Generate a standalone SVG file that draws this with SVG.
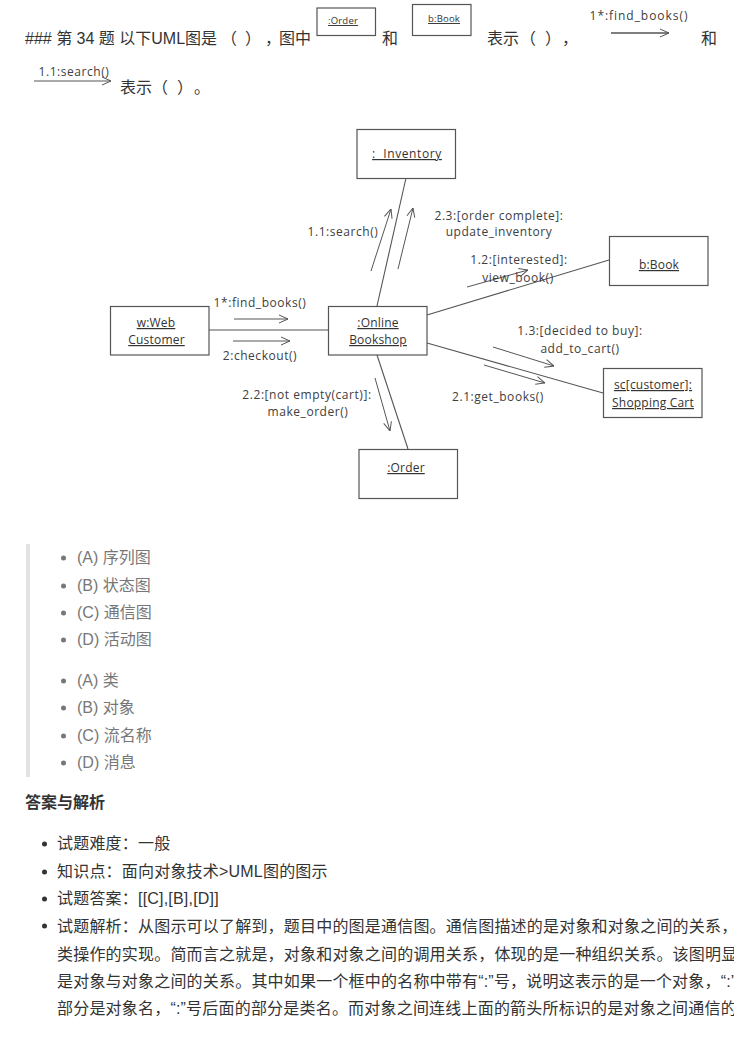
<svg xmlns="http://www.w3.org/2000/svg" width="734" height="1042" viewBox="0 0 734 1042">
<style>
text{font-family:"Liberation Sans","Noto Sans CJK SC",sans-serif;font-size:16px;fill:#333}
.o{fill:#777}
.b{font-weight:bold}
.w{letter-spacing:.2px}
.u,.l,.m{font-family:"Open Sans","Noto Sans",sans-serif;text-anchor:middle}
.u{font-size:12px;text-decoration:underline;fill:#333;letter-spacing:.2px}
.l{font-size:12px;fill:#404040;letter-spacing:.55px}
.s{font-size:9.500px;text-decoration:underline}
.box{fill:#fff;stroke:#555;stroke-width:1.2}
.c{fill:none;stroke:#555;stroke-width:1.1}
.a{fill:none;stroke:#555;stroke-width:1;marker-end:url(#h)}
.d{fill:#777}
.k{fill:#333}
</style>
<defs>
<marker id="h" viewBox="0 0 10 10" refX="10" refY="5" markerWidth="10" markerHeight="10" markerUnits="userSpaceOnUse" orient="auto"><path d="M1 1L10 5L1 9" fill="none" stroke="#555" stroke-width="1"/></marker>
</defs>
<rect width="734" height="1042" fill="#fff"/>

<g id="question">
<text x="25" y="44">### 第 34 题 以下UML图是</text>
<text x="221" y="44">（</text><text x="245" y="44">）</text><text x="265" y="44">，</text>
<text x="279" y="44">图中</text>
<text x="382" y="44">和</text>
<text x="487" y="44">表示</text>
<text x="520" y="44">（</text><text x="545" y="44">）</text><text x="562" y="44">，</text>
<text x="701" y="44">和</text>
<text x="120" y="93">表示</text>
<text x="152" y="93">（</text><text x="177" y="93">）</text><text x="194" y="93">。</text>
</g>
<g id="inline-order"><rect class="box" x="317" y="8" width="58.500" height="27.500"/><text class="u s" x="343" y="24">:Order</text></g>
<g id="inline-book"><rect class="box" x="412.500" y="4.500" width="58.500" height="31"/><text class="u s" x="444" y="22">b:Book</text></g>
<g id="inline-message"><text class="l" style="letter-spacing:.95px" x="639" y="20">1*:find_books()</text><path class="a" style="stroke-width:1.500" d="M611 33H669"/></g>
<g id="inline-search"><text class="l" x="74" y="76">1.1:search()</text><path class="a" d="M34 81H111"/></g>

<g id="connectors">
<path class="c" d="M209 330H328"/>
<path class="c" d="M377 306L406 178"/>
<path class="c" d="M377 355L408 449"/>
<path class="c" d="M427 315L609 260"/>
<path class="c" d="M427 343L603 393"/>
<path class="a" d="M234 319H288"/>
<path class="a" d="M233 341H290"/>
<path class="a" d="M371 271L391 209"/>
<path class="a" d="M398 269L413 208"/>
<path class="a" d="M375 378L390 431"/>
<path class="a" d="M467 287L528 270"/>
<path class="a" d="M493 347L554 366"/>
<path class="a" d="M484 365L545 383"/>
</g>

<g id="web-customer"><rect class="box" x="110.500" y="306.500" width="98.500" height="48.500"/><text class="u" x="156" y="327">w:Web</text><text class="u" x="156.500" y="344">Customer</text></g>
<g id="online-bookshop"><rect class="box" x="328.500" y="306.500" width="98.500" height="48.500"/><text class="u" x="378" y="327">:Online</text><text class="u" x="378" y="344">Bookshop</text></g>
<g id="inventory"><rect class="box" x="357" y="129.500" width="98.500" height="49"/><text class="u" style="letter-spacing:.6px" xml:space="preserve" x="407" y="158">:  Inventory</text></g>
<g id="order"><rect class="box" x="359" y="449.500" width="98.500" height="49"/><text class="u" x="406" y="472">:Order</text></g>
<g id="book"><rect class="box" x="609.500" y="236.500" width="98.500" height="49"/><text class="u" x="659" y="269">b:Book</text></g>
<g id="shopping-cart"><rect class="box" x="603.500" y="368.500" width="98.500" height="49"/><text class="u" x="653" y="389">sc[customer]:</text><text class="u" x="653" y="407">Shopping Cart</text></g>

<g id="message-labels">
<text class="l" x="260" y="307">1*:find_books()</text>
<text class="l" x="260" y="360">2:checkout()</text>
<text class="l" x="343" y="236">1.1:search()</text>
<text class="l" x="499" y="220">2.3:[order complete]:</text>
<text class="l" x="499" y="236">update_inventory</text>
<text class="l" x="519" y="264">1.2:[interested]:</text>
<text class="l" x="518" y="282">view_book()</text>
<text class="l" x="580" y="335">1.3:[decided to buy]:</text>
<text class="l" x="580" y="353">add_to_cart()</text>
<text class="l" x="498" y="401">2.1:get_books()</text>
<text class="l" x="307" y="399">2.2:[not empty(cart)]:</text>
<text class="l" x="308" y="416">make_order()</text>
</g>

<g id="options">
<rect x="26" y="544" width="4" height="233" fill="#e3e3e3"/>
<circle class="d" cx="63.500" cy="558" r="2.500"/><text class="o" x="77" y="563">(A) 序列图</text>
<circle class="d" cx="63.500" cy="586" r="2.500"/><text class="o" x="77" y="591">(B) 状态图</text>
<circle class="d" cx="63.500" cy="613" r="2.500"/><text class="o" x="77" y="618">(C) 通信图</text>
<circle class="d" cx="63.500" cy="640" r="2.500"/><text class="o" x="77" y="645">(D) 活动图</text>
<circle class="d" cx="63.500" cy="681" r="2.500"/><text class="o" x="77" y="686">(A) 类</text>
<circle class="d" cx="63.500" cy="708" r="2.500"/><text class="o" x="77" y="713">(B) 对象</text>
<circle class="d" cx="63.500" cy="736" r="2.500"/><text class="o" x="77" y="741">(C) 流名称</text>
<circle class="d" cx="63.500" cy="763" r="2.500"/><text class="o" x="77" y="768">(D) 消息</text>
</g>

<g id="answer">
<text class="b" x="25" y="808">答案与解析</text>
<circle class="k" cx="44.500" cy="844" r="2.500"/><text class="w" x="57" y="849">试题难度：一般</text>
<circle class="k" cx="44.500" cy="872" r="2.500"/><text class="w" x="57" y="877">知识点：面向对象技术&gt;UML图的图示</text>
<circle class="k" cx="44.500" cy="899" r="2.500"/><text class="w" x="57" y="904">试题答案：[[C],[B],[D]]</text>
<circle class="k" cx="44.500" cy="926" r="2.500"/><text class="w" x="57" y="932">试题解析：从图示可以了解到，题目中的图是通信图。通信图描述的是对象和对象之间的关系，</text>
<text class="w" x="57" y="960">类操作的实现。简而言之就是，对象和对象之间的调用关系，体现的是一种组织关系。该图明显</text>
<text class="w" x="57" y="987">是对象与对象之间的关系。其中如果一个框中的名称中带有“:”号，说明这表示的是一个对象，“:”</text>
<text class="w" x="57" y="1014">部分是对象名，“:”号后面的部分是类名。而对象之间连线上面的箭头所标识的是对象之间通信的</text>
</g>
</svg>
